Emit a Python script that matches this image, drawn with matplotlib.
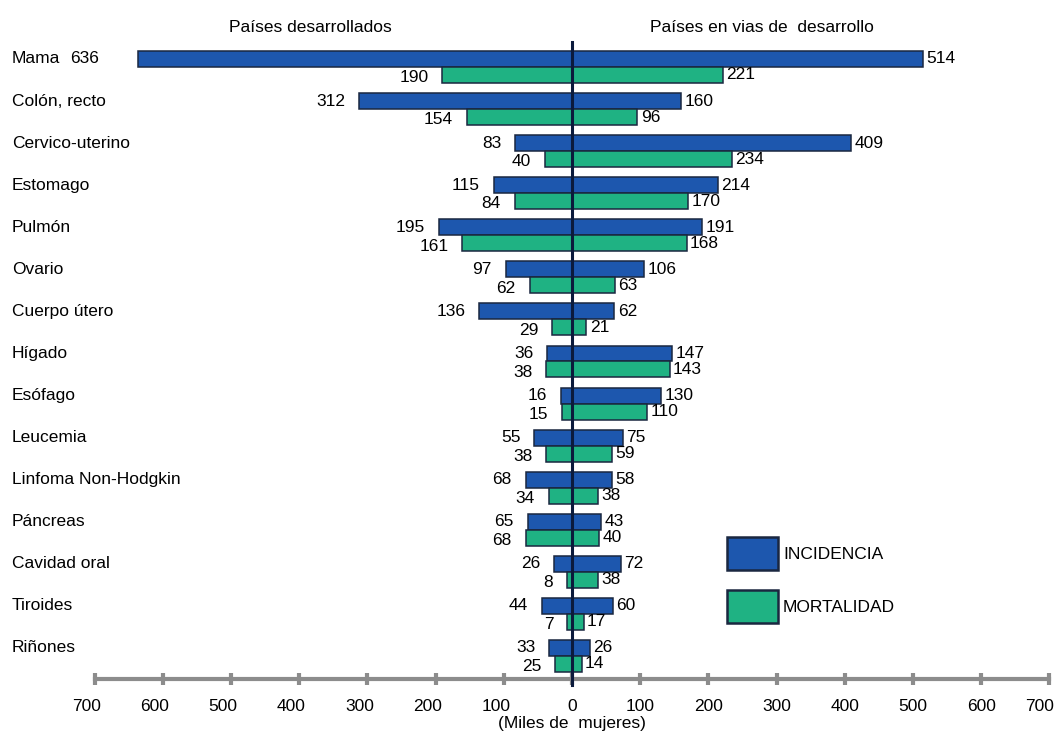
import matplotlib
matplotlib.use("Agg")
import matplotlib.pyplot as plt
import matplotlib.transforms as mtransforms
from matplotlib.patches import Patch

plt.rcParams["font.family"] = ["Liberation Sans", "DejaVu Sans"]

# Data (thousands of women)
categories = ["Mama", "Colón, recto", "Cervico-uterino", "Estomago", "Pulmón",
              "Ovario", "Cuerpo útero", "Hígado", "Esófago", "Leucemia",
              "Linfoma Non-Hodgkin", "Páncreas", "Cavidad oral", "Tiroides", "Riñones"]
dev_incidence = [636, 312, 83, 115, 195, 97, 136, 36, 16, 55, 68, 65, 26, 44, 33]
dev_mortality = [190, 154, 40, 84, 161, 62, 29, 38, 15, 38, 34, 68, 8, 7, 25]
lmic_incidence = [514, 160, 409, 214, 191, 106, 62, 147, 130, 75, 58, 43, 72, 60, 26]
lmic_mortality = [221, 96, 234, 170, 168, 63, 21, 143, 110, 59, 38, 40, 38, 17, 14]
tick_values = [-700, -600, -500, -400, -300, -200, -100, 0, 100, 200, 300, 400, 500, 600, 700]
tick_labels = [str(abs(v)) for v in tick_values]

BLUE = "#1d57ae"
GREEN = "#1fb283"
EDGE = "#1a2740"
FS = 12.5

W, H = 1058, 735
fig = plt.figure(figsize=(W / 100, H / 100), dpi=100)
ax = fig.add_axes([94.6 / W, (H - 679) / H, 954.8 / W, (679 - 42) / H])

h = 0.38
ys = list(range(len(categories)))
y_inc = [y - h / 2 for y in ys]
y_mor = [y + h / 2 for y in ys]

ax.barh(y_inc, [-v for v in dev_incidence], height=h, color=BLUE, edgecolor=EDGE, linewidth=1.1)
ax.barh(y_inc, lmic_incidence, height=h, color=BLUE, edgecolor=EDGE, linewidth=1.1)
ax.barh(y_mor, [-v for v in dev_mortality], height=h, color=GREEN, edgecolor=EDGE, linewidth=1.1)
ax.barh(y_mor, lmic_mortality, height=h, color=GREEN, edgecolor=EDGE, linewidth=1.1)

# value labels
for i in ys:
    gap = -28 if i == 0 else -10
    ax.annotate(str(dev_incidence[i]), (-dev_incidence[i], y_inc[i]), xytext=(gap, 0),
                textcoords="offset points", ha="right", va="center", fontsize=FS)
    ax.annotate(str(dev_mortality[i]), (-dev_mortality[i], y_mor[i]), xytext=(-10, -2),
                textcoords="offset points", ha="right", va="center", fontsize=FS)
    ax.annotate(str(lmic_incidence[i]), (lmic_incidence[i], y_inc[i]), xytext=(2.5, 0),
                textcoords="offset points", ha="left", va="center", fontsize=FS)
    ax.annotate(str(lmic_mortality[i]), (lmic_mortality[i], y_mor[i]), xytext=(2.5, 0),
                textcoords="offset points", ha="left", va="center", fontsize=FS)

# category names at the left margin
tr = mtransforms.blended_transform_factory(fig.transFigure, ax.transData)
for i, name in enumerate(categories):
    ax.text(12 / W, y_inc[i], name, transform=tr, ha="left", va="center", fontsize=FS)

# central axis line
ax.axvline(0, ymin=-0.01, ymax=1, color="#0b1a3c", lw=2.2, clip_on=False, zorder=5)

ax.set_xlim(-700, 700)
ax.set_ylim(14.547, -0.594)
ax.set_xticks(tick_values)
ax.set_xticklabels(tick_labels, fontsize=FS)
ax.set_yticks([])
for s in ["top", "right", "left"]:
    ax.spines[s].set_visible(False)
ax.spines["bottom"].set_color("#8c8c8c")
ax.spines["bottom"].set_linewidth(3)
ax.tick_params(axis="x", direction="inout", length=9, width=3, color="#8c8c8c", pad=10)
ax.set_xlabel("(Miles de  mujeres)", fontsize=FS, labelpad=1)

# nudge the tick labels: left half sits a little left of its ticks, last one kept inside
for v, lab in zip(tick_values, ax.get_xticklabels()):
    dx = -8 if v < 0 else (-10 if v == 700 else 0)
    lab.set_transform(lab.get_transform() + mtransforms.ScaledTranslation(dx / 100, 0, fig.dpi_scale_trans))

fig.text(310 / W, 1 - 27 / H, "Países desarrollados", ha="center", va="center", fontsize=FS)
fig.text(762 / W, 1 - 27 / H, "Países en vias de  desarrollo", ha="center", va="center", fontsize=FS)

handles = [Patch(facecolor=BLUE, edgecolor=EDGE, linewidth=1.8, label="INCIDENCIA"),
           Patch(facecolor=GREEN, edgecolor=EDGE, linewidth=1.8, label="MORTALIDAD")]
fig.legend(handles=handles, loc="upper left", bbox_to_anchor=(727 / W, 1 - 537 / H),
           frameon=False, fontsize=FS, borderpad=0, borderaxespad=0,
           handlelength=2.93, handleheight=2.54, labelspacing=1.15, handletextpad=0.3)

fig.savefig("out.png", dpi=100)
